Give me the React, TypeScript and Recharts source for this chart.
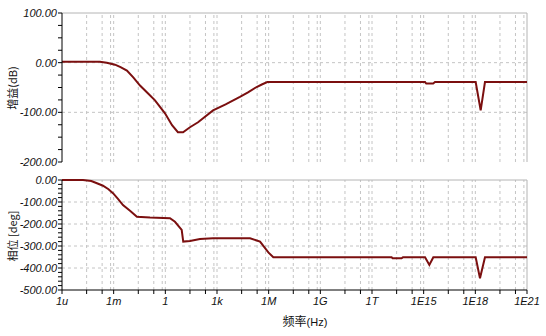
import { LineChart, Line, XAxis, YAxis, ReferenceLine } from 'recharts'

// frequency is stored as log10(Hz)
const gainLogF = [-6, -3.8, -3.4, -2.92, -2.6, -2.23, -1.85, -1.47, -1.0, -0.6, -0.02, 0.39, 0.73, 1.03, 1.43, 1.9, 2.77, 3.5, 4.33, 4.8, 5.3, 5.6, 5.92, 15.08, 15.15, 15.55, 15.66, 18.02, 18.31, 18.56, 21]
const gainDb = [2, 2, 0, -4, -9, -16, -30, -46, -62, -76, -102, -126, -140, -140, -130, -120, -96, -84, -69, -60, -49, -44, -39, -39, -42, -42, -39, -39, -96, -39, -39]

const phaseLogF = [-6, -4.78, -4.3, -3.97, -3.62, -3.3, -3.04, -2.75, -2.46, -2.05, -1.65, -0.89, 0.27, 0.56, 0.95, 1.04, 1.43, 2.01, 2.77, 4.92, 5.5, 5.98, 6.27, 13.14, 13.2, 13.72, 13.8, 15.08, 15.33, 15.56, 18.02, 18.27, 18.56, 21]
const phaseDeg = [0, 0, -5, -15, -26, -42, -60, -86, -114, -140, -167, -171, -174, -190, -227, -280, -277, -268, -265, -265, -280, -329, -351, -351, -356, -356, -351, -351, -386, -351, -351, -447, -351, -351]

const majorTicks = [-6, -3, 0, 3, 6, 9, 12, 15, 18, 21]
const majorLabels = ['1u', '1m', '1', '1k', '1M', '1G', '1T', '1E15', '1E18', '1E21']
const minorTickOffsets = [1.43, 2.33]
const minorGridOffsets = [1.43, 2.33, 2.82]

const gainTicks = [-200, -175, -150, -125, -100, -75, -50, -25, 0, 25, 50, 75, 100]
const gainGrid = [-100, 0]
const phaseTicks = [-500, -480, -460, -440, -420, -400, -380, -360, -340, -320, -300, -280, -260, -240, -220, -200, -180, -160, -140, -120, -100, -80, -60, -40, -20, 0]
const phaseGrid = [-400, -300, -200, -100]

const gainData = gainLogF.map((f, i) => ({ f, v: gainDb[i] }))
const phaseData = phaseLogF.map((f, i) => ({ f, v: phaseDeg[i] }))

const xTicks = [
  ...majorTicks,
  ...majorTicks.slice(0, -1).flatMap((m) => minorTickOffsets.map((o) => m + o)),
].sort((a, b) => a - b)
const xGrid = majorTicks.slice(0, -1).flatMap((m) => [...minorGridOffsets.map((o) => m + o), m + 3]).filter((v) => v < 21)

const LINE = '#7b0f0f'
const GRID = '#c4c4c4'
const BORDER = '#b4b4b4'
const tickStyle = { fill: '#111', fontSize: 11, fontStyle: 'italic', fontFamily: 'Liberation Sans, Arial, sans-serif' }

const fmtY = (v: number) => (v % 100 === 0 ? v.toFixed(2) : '')
const fmtX = (v: number) => {
  const i = majorTicks.indexOf(v)
  return i >= 0 ? majorLabels[i] : ''
}

const titleStyle = {
  position: 'absolute' as const,
  fontFamily: '"Noto Sans CJK SC", sans-serif',
  fontSize: 11,
  color: '#111',
  whiteSpace: 'nowrap' as const,
  transform: 'translate(-50%, -50%) rotate(-90deg)',
}

export default function App() {
  return (
    <div style={{ position: 'absolute', left: 0, top: 0, width: 546, height: 336, background: '#fff' }}>
      <div style={{ position: 'absolute', left: 0, top: 0 }}>
        <LineChart width={546} height={170} data={gainData} margin={{ top: 13, right: 19, left: 0, bottom: 8 }}>
          <XAxis dataKey="f" type="number" domain={[-6, 21]} ticks={majorTicks} tick={false} tickLine={false} height={0} axisLine={{ stroke: '#000' }} />
          <YAxis type="number" domain={[-200, 100]} ticks={gainTicks} interval={0} tickFormatter={fmtY} width={62} tick={tickStyle} tickSize={4} tickMargin={1} tickLine={{ stroke: '#000' }} axisLine={{ stroke: '#000' }} />
          {xGrid.map((x) => (
            <ReferenceLine key={'x' + x} x={x} stroke={GRID} strokeDasharray="3 3" />
          ))}
          {gainGrid.map((y) => (
            <ReferenceLine key={'y' + y} y={y} stroke={GRID} strokeDasharray="3 3" />
          ))}
          <ReferenceLine y={100} stroke={BORDER} />
          <ReferenceLine x={21} stroke={BORDER} />
          <Line dataKey="v" type="linear" stroke={LINE} strokeWidth={2} dot={false} isAnimationActive={false} />
        </LineChart>
      </div>
      <div style={{ position: 'absolute', left: 0, top: 170 }}>
        <LineChart width={546} height={166} data={phaseData} margin={{ top: 10, right: 19, left: 0, bottom: 16 }}>
          <XAxis dataKey="f" type="number" domain={[-6, 21]} ticks={xTicks} interval={0} tickFormatter={fmtX} height={30} tick={tickStyle} tickSize={4} tickMargin={3} tickLine={{ stroke: '#000' }} axisLine={{ stroke: '#000' }} />
          <YAxis type="number" domain={[-500, 0]} ticks={phaseTicks} interval={0} tickFormatter={fmtY} width={62} tick={tickStyle} tickSize={4} tickMargin={1} tickLine={{ stroke: '#000' }} axisLine={{ stroke: '#000' }} />
          {xGrid.map((x) => (
            <ReferenceLine key={'x' + x} x={x} stroke={GRID} strokeDasharray="3 3" />
          ))}
          {phaseGrid.map((y) => (
            <ReferenceLine key={'y' + y} y={y} stroke={GRID} strokeDasharray="3 3" />
          ))}
          <ReferenceLine y={0} stroke={BORDER} />
          <ReferenceLine x={21} stroke={BORDER} />
          <Line dataKey="v" type="linear" stroke={LINE} strokeWidth={2} dot={false} isAnimationActive={false} />
        </LineChart>
      </div>
      <div style={{ ...titleStyle, left: 12, top: 88 }}>增益(dB)</div>
      <div style={{ ...titleStyle, left: 12, top: 236 }}>相位 [deg]</div>
      <div style={{ position: 'absolute', left: 305, top: 320, transform: 'translate(-50%, -50%)', fontFamily: '"Noto Sans CJK SC", sans-serif', fontSize: 12, color: '#111', whiteSpace: 'nowrap' }}>
        频率<span style={{ fontFamily: 'Liberation Sans, Arial, sans-serif', fontSize: 11 }}>(Hz)</span>
      </div>
    </div>
  )
}
